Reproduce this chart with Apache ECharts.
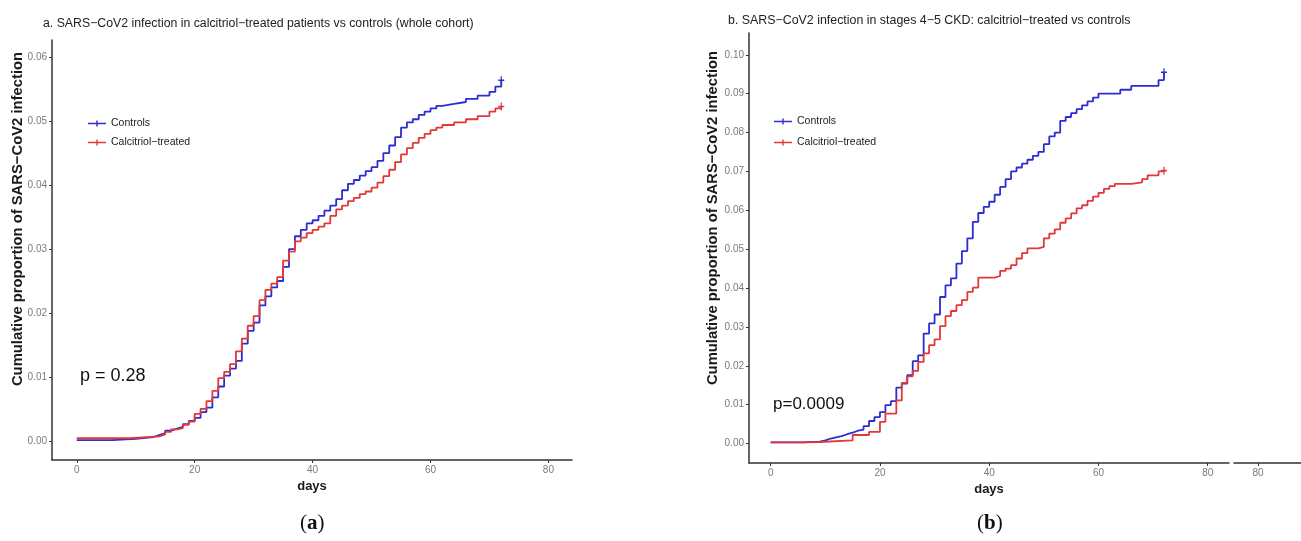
<!DOCTYPE html>
<html>
<head>
<meta charset="utf-8">
<script src="https://cdn.jsdelivr.net/npm/echarts@6/dist/echarts.min.js"></script>
<style>
  html, body { margin: 0; padding: 0; background: #fff; }
  #main { width: 1301px; height: 541px; }
</style>
</head>
<body>
<div id="main"></div>
<script>
// panel a: whole cohort
var ctrlDaysA = [0, 6, 10, 13, 14, 15, 16, 17, 18, 19, 20, 21, 22, 23, 24, 25, 26, 27, 28, 29, 30, 31, 32, 33, 34, 35, 36, 37, 38, 39, 40, 41, 42, 43, 44, 45, 46, 47, 48, 49, 50, 51, 52, 53, 54, 55, 56, 57, 58, 59, 60, 61, 62, 64, 66, 68, 70, 71, 72];
var ctrlValsA = [0.0001, 0.0003, 0.0006, 0.0009, 0.0012, 0.0016, 0.0019, 0.0022, 0.0026, 0.0031, 0.0036, 0.0045, 0.0052, 0.0068, 0.0085, 0.0102, 0.0113, 0.0125, 0.0152, 0.0172, 0.0185, 0.0212, 0.0226, 0.0240, 0.0250, 0.0272, 0.0300, 0.0320, 0.0330, 0.0340, 0.0345, 0.0352, 0.0360, 0.0368, 0.0378, 0.0392, 0.0402, 0.0408, 0.0415, 0.0422, 0.0428, 0.0438, 0.0450, 0.0462, 0.0475, 0.0490, 0.0498, 0.0503, 0.0510, 0.0515, 0.0520, 0.0524, 0.0527, 0.0530, 0.0535, 0.0540, 0.0546, 0.0554, 0.0564];
var calcDaysA = [0, 9, 14, 15, 16, 17, 18, 19, 20, 21, 22, 23, 24, 25, 26, 27, 28, 29, 30, 31, 32, 33, 34, 35, 36, 37, 38, 39, 40, 41, 42, 43, 44, 45, 46, 47, 48, 49, 50, 51, 52, 53, 54, 55, 56, 57, 58, 59, 60, 61, 62, 64, 66, 68, 70, 71, 72];
var calcValsA = [0.0004, 0.0007, 0.0010, 0.0014, 0.0018, 0.0020, 0.0025, 0.0030, 0.0042, 0.0050, 0.0062, 0.0078, 0.0098, 0.0108, 0.0120, 0.0140, 0.0160, 0.0180, 0.0195, 0.0220, 0.0236, 0.0246, 0.0256, 0.0282, 0.0296, 0.0312, 0.0318, 0.0325, 0.0330, 0.0335, 0.0340, 0.0352, 0.0362, 0.0368, 0.0375, 0.0380, 0.0386, 0.0390, 0.0396, 0.0404, 0.0414, 0.0424, 0.0436, 0.0448, 0.0458, 0.0466, 0.0474, 0.0480, 0.0486, 0.0490, 0.0494, 0.0498, 0.0503, 0.0508, 0.0515, 0.0520, 0.0523];

// panel b: stages 4-5 CKD
var ctrlDaysB = [0, 6, 9, 10, 11, 12, 13, 14, 15, 16, 17, 18, 19, 20, 21, 22, 23, 24, 25, 26, 27, 28, 29, 30, 31, 32, 33, 34, 35, 36, 37, 38, 39, 40, 41, 42, 43, 44, 45, 46, 47, 48, 49, 50, 51, 52, 53, 54, 55, 56, 57, 58, 59, 60, 64, 66, 71, 72];
var ctrlValsB = [0.0003, 0.0005, 0.0008, 0.0013, 0.0016, 0.0019, 0.0024, 0.0028, 0.0033, 0.0036, 0.0045, 0.0058, 0.0068, 0.0081, 0.0099, 0.0109, 0.0144, 0.0154, 0.0176, 0.0212, 0.0227, 0.0283, 0.0309, 0.0332, 0.0377, 0.0407, 0.0425, 0.0463, 0.0495, 0.0528, 0.0570, 0.0593, 0.0609, 0.0622, 0.0640, 0.0660, 0.0680, 0.0700, 0.0710, 0.0720, 0.0730, 0.0740, 0.0750, 0.0770, 0.0790, 0.0800, 0.0830, 0.0840, 0.0850, 0.0860, 0.0870, 0.0880, 0.0890, 0.0900, 0.0910, 0.0920, 0.0935, 0.0955];
var calcDaysB = [0, 6, 9, 15, 18, 20, 21, 23, 24, 25, 26, 27, 28, 29, 30, 31, 32, 33, 34, 35, 36, 37, 38, 41, 42, 43, 44, 45, 46, 47, 49, 50, 51, 52, 53, 54, 55, 56, 57, 58, 59, 60, 61, 62, 63, 66, 68, 69, 71, 72];
var calcValsB = [0.0003, 0.0004, 0.0008, 0.0022, 0.0030, 0.0056, 0.0077, 0.0111, 0.0156, 0.0173, 0.0187, 0.0210, 0.0232, 0.0253, 0.0268, 0.0302, 0.0328, 0.0341, 0.0356, 0.0369, 0.0390, 0.0401, 0.0427, 0.0431, 0.0444, 0.0450, 0.0459, 0.0476, 0.0490, 0.0502, 0.0506, 0.0528, 0.0540, 0.0551, 0.0568, 0.0579, 0.0592, 0.0605, 0.0613, 0.0624, 0.0635, 0.0645, 0.0655, 0.0662, 0.0668, 0.0672, 0.0680, 0.0690, 0.0700, 0.0702];

var xTicks = [0, 20, 40, 60, 80];
var yTicksA = [0, 0.01, 0.02, 0.03, 0.04, 0.05, 0.06];
var yTicksB = [0, 0.01, 0.02, 0.03, 0.04, 0.05, 0.06, 0.07, 0.08, 0.09, 0.10];

var BLUE = '#2c2cd4';
var RED = '#e23838';
var plusMark = 'path://M4,0 H6 V4 H10 V6 H6 V10 H4 V6 H0 V4 H4 Z';
var legendIcon = 'path://M0,4.2 H18 V5.8 H0 Z M8.3,2 H9.7 V8 H8.3 Z';
var yName = 'Cumulative proportion of SARS\u2212CoV2 infection';

function stepData(days, vals) {
  var out = days.map(function (d, i) { return [d, vals[i]]; });
  var last = out.pop();
  out.push({ value: last, symbol: plusMark, symbolSize: [6, 8] });
  return out;
}

function xAxisOf(grid, min, max, ticks, showName) {
  return {
    type: 'value', gridIndex: grid, min: min, max: max,
    name: showName ? 'days' : '', nameLocation: 'middle', nameGap: 13,
    nameTextStyle: { fontSize: 13, fontWeight: 'bold', color: '#1a1a1a', fontFamily: 'Liberation Sans' },
    axisLine: { show: true, onZero: false, lineStyle: { color: '#333', width: 1.5 } },
    axisTick: { show: true, length: 3, customValues: ticks, lineStyle: { color: '#333' } },
    axisLabel: { customValues: ticks, color: '#7a7a7a', fontSize: 10, margin: 5, fontFamily: 'Liberation Sans' },
    splitLine: { show: false }
  };
}

function yAxisOf(grid, min, max, ticks) {
  return {
    type: 'value', gridIndex: grid, min: min, max: max,
    axisLine: { show: true, onZero: false, lineStyle: { color: '#333', width: 1.5 } },
    axisTick: { show: true, length: 3, customValues: ticks, lineStyle: { color: '#333' } },
    axisLabel: {
      customValues: ticks, color: '#7a7a7a', fontSize: 10, margin: 5, fontFamily: 'Liberation Sans',
      formatter: function (v) { return v.toFixed(2); }
    },
    splitLine: { show: false }
  };
}

// y titles sit a bit above the panel centre in the original
function yTitle(x, y) {
  return {
    type: 'text', x: x, y: y, rotation: Math.PI / 2,
    style: {
      text: yName, fontSize: 14.8, fontWeight: 'bold', fill: '#1a1a1a', fontFamily: 'Liberation Sans',
      align: 'center', verticalAlign: 'middle'
    }
  };
}

function panelTag(x, letter) {
  return {
    type: 'text', left: x, top: 513,
    style: {
      text: '({b|' + letter + '})', fontSize: 21, fill: '#111', fontFamily: 'Liberation Serif',
      rich: { b: { fontSize: 21, fontWeight: 'bold', fontFamily: 'Liberation Serif', fill: '#111' } }
    }
  };
}

function lineSeries(name, grid, color, days, vals) {
  return {
    name: name, type: 'line', xAxisIndex: grid, yAxisIndex: grid,
    step: 'end', symbol: 'none', showSymbol: true, color: color,
    lineStyle: { width: 1.8, color: color },
    itemStyle: { color: color },
    data: stepData(days, vals)
  };
}

var chart = echarts.init(document.getElementById('main'), null, { renderer: 'canvas' });

var option = {
  animation: false,
  backgroundColor: '#fff',
  textStyle: { fontFamily: 'Liberation Sans' },
  title: [
    {
      text: 'a. SARS\u2212CoV2 infection in calcitriol\u2212treated patients vs controls (whole cohort)',
      left: 38, top: 13,
      textStyle: { fontSize: 12.3, fontWeight: 'normal', color: '#222' }
    },
    {
      text: 'b. SARS\u2212CoV2 infection in stages 4\u22125 CKD: calcitriol\u2212treated vs controls',
      left: 723, top: 10,
      textStyle: { fontSize: 12.4, fontWeight: 'normal', color: '#222' }
    }
  ],
  legend: [
    {
      left: 83, top: 113, orient: 'vertical', itemGap: 8, itemWidth: 18, itemHeight: 8,
      icon: legendIcon, data: ['Controls', 'Calcitriol\u2212treated'],
      textStyle: { fontSize: 10.5, color: '#222' }, selectedMode: false
    },
    {
      left: 769, top: 111, orient: 'vertical', itemGap: 10, itemWidth: 18, itemHeight: 8,
      icon: legendIcon, data: ['Controls', 'Calcitriol\u2212treated'],
      textStyle: { fontSize: 10.5, color: '#222' }, selectedMode: false
    }
  ],
  grid: [
    { left: 52, top: 40, width: 520, height: 420 },
    { left: 749, top: 33, width: 480, height: 430 },
    { left: 1234, top: 100, width: 67, height: 363 }
  ],
  xAxis: [
    xAxisOf(0, -4.2, 84, xTicks, true),
    xAxisOf(1, -3.97, 83.9, xTicks, true),
    xAxisOf(2, 75.6, 87.9, [80], false)
  ],
  yAxis: [
    yAxisOf(0, -0.003, 0.0627, yTicksA),
    yAxisOf(1, -0.005, 0.1056, yTicksB),
    { type: 'value', gridIndex: 2, show: false, min: 0, max: 1 }
  ],
  graphic: [
    yTitle(18, 219),
    yTitle(713, 218),
    { type: 'text', left: 80, top: 367, style: { text: 'p = 0.28', fontSize: 18, fill: '#111', fontFamily: 'Liberation Sans' } },
    { type: 'text', left: 773, top: 396, style: { text: 'p=0.0009', fontSize: 17, fill: '#111', fontFamily: 'Liberation Sans' } },
    panelTag(300, 'a'),
    panelTag(977, 'b')
  ],
  series: [
    lineSeries('Controls', 0, BLUE, ctrlDaysA, ctrlValsA),
    lineSeries('Calcitriol\u2212treated', 0, RED, calcDaysA, calcValsA),
    lineSeries('Controls', 1, BLUE, ctrlDaysB, ctrlValsB),
    lineSeries('Calcitriol\u2212treated', 1, RED, calcDaysB, calcValsB)
  ]
};

chart.setOption(option);
</script>
</body>
</html>
